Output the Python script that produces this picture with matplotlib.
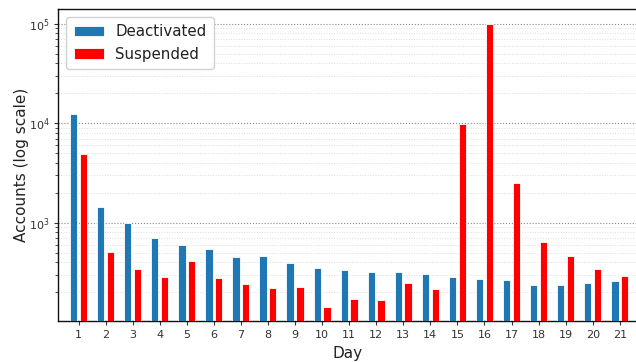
import numpy as np
import matplotlib
matplotlib.use('Agg')
import matplotlib.pyplot as plt
from matplotlib.ticker import LogLocator, NullFormatter

days = list(range(1, 22))
deactivated = [12450, 1438, 985, 702, 592, 548, 455, 466, 390, 353, 335,
               320, 320, 302, 282, 274, 263, 237, 238, 248, 257]
suspended = [4930, 512, 343, 285, 415, 278, 244, 222, 226, 141, 171,
             166, 248, 217, 9850, 100000, 2524, 634, 462, 340, 293]


def main():
  plt.rcParams['font.family'] = 'DejaVu Sans'
  fig = plt.figure(figsize=(6.36, 3.62), dpi=100)
  ax = fig.add_axes([58.5 / 636, 41 / 362, (636 - 58.5) / 636, 312 / 362])

  x = np.array(days)
  w = 0.27
  ax.bar(x - 0.18, deactivated, width=w, color='#1f77b4', edgecolor='white',
         linewidth=0.6, label='Deactivated', zorder=3)
  ax.bar(x + 0.18, suspended, width=w, color='red', edgecolor='white',
         linewidth=0.6, label='Suspended', zorder=3)

  ax.set_yscale('log')
  ax.set_ylim(103, 1.4e5)
  ax.set_xlim(0.26, 21.6)
  ax.set_xticks(days)
  ax.set_xticklabels([str(d) for d in days])
  ax.yaxis.set_minor_locator(LogLocator(base=10, subs=np.arange(2, 10)))
  ax.yaxis.set_minor_formatter(NullFormatter())

  ax.grid(which='major', axis='y', linestyle=':', color='#888888', linewidth=0.8, zorder=0)
  ax.grid(which='minor', axis='y', linestyle=':', color='#dddddd', linewidth=0.7, zorder=0)

  ax.tick_params(axis='both', which='major', labelsize=8, colors='#333333',
                 length=3, width=0.8)
  ax.tick_params(axis='y', which='minor', length=2, width=0.6, colors='#333333')
  for side in ['left', 'bottom', 'top']:
    ax.spines[side].set_color('#111111')
    ax.spines[side].set_linewidth(1.0)
  ax.spines['right'].set_visible(False)

  ax.set_xlabel('Day', fontsize=11, color='#222222')
  ax.set_ylabel('Accounts (log scale)', fontsize=11, color='#222222', labelpad=0)

  leg = ax.legend(loc='upper left', fontsize=10.8, handlelength=2.0,
                  borderpad=0.5, framealpha=0.9, edgecolor='#cccccc')
  for t in leg.get_texts():
    t.set_color('#222222')

  fig.savefig('out.png', dpi=100)


if __name__ == '__main__':
  main()
